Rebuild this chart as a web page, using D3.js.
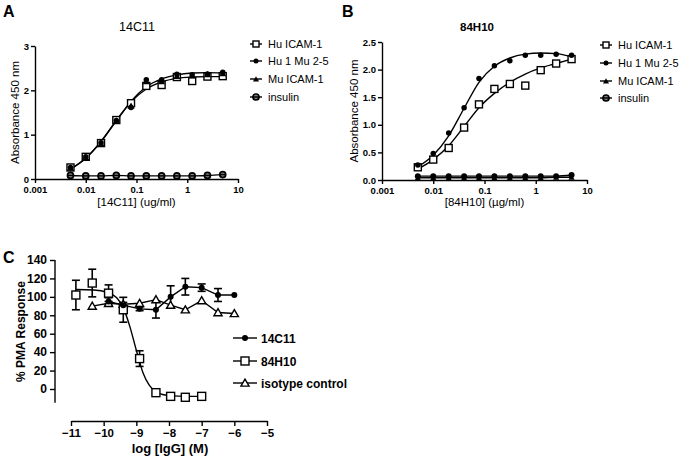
<!DOCTYPE html>
<html>
<head>
<meta charset="utf-8">
<script src="https://cdn.jsdelivr.net/npm/d3@7"></script>
<style>
  body { margin: 0; background: #fff; }
  svg { display: block; }
</style>
</head>
<body>
<svg id="chart" width="689" height="459"></svg>
<script>
// ---- data ----
const conc = [0.005, 0.01, 0.02, 0.04, 0.078, 0.156, 0.3125, 0.625, 1.25, 2.5, 5];

// panel A (14C11)
const aHuICAM = [0.26, 0.50, 0.81, 1.33, 1.71, 2.10, 2.12, 2.30, 2.21, 2.31, 2.32];
const aHu1Mu = [0.26, 0.50, 0.82, 1.32, 1.61, 2.24, 2.24, 2.36, 2.35, 2.37, 2.41];
const aMuICAM = [0.25, 0.49, 0.80, 1.31, 1.65, 2.20, 2.20, 2.32, 2.33, 2.36, 2.38];
const aInsulin = [0.08, 0.07, 0.07, 0.08, 0.07, 0.07, 0.07, 0.07, 0.07, 0.08, 0.10];
const aFitHuICAM = [0.22, 0.47, 0.85, 1.32, 1.74, 2.03, 2.19, 2.27, 2.30, 2.31, 2.31];
const aFitHu1Mu = [0.23, 0.47, 0.84, 1.31, 1.75, 2.08, 2.26, 2.35, 2.39, 2.40, 2.39];

// panel B (84H10)
const bHuICAM = [0.23, 0.37, 0.58, 0.95, 1.37, 1.65, 1.74, 1.71, 1.99, 2.11, 2.19];
const bHu1Mu = [0.27, 0.48, 0.85, 1.31, 1.84, 2.07, 2.16, 2.26, 2.26, 2.28, 2.26];
const bMuICAM = [0.04, 0.04, 0.04, 0.04, 0.04, 0.04, 0.04, 0.04, 0.04, 0.05, 0.05];
const bInsulin = [0.07, 0.07, 0.07, 0.07, 0.07, 0.07, 0.07, 0.07, 0.07, 0.07, 0.09];
const bFitHuICAM = [0.20, 0.37, 0.62, 0.97, 1.31, 1.57, 1.77, 1.92, 2.03, 2.11, 2.19];
const bFitHu1Mu = [0.24, 0.45, 0.80, 1.30, 1.77, 2.06, 2.21, 2.28, 2.30, 2.29, 2.23];

const seriesNames = ["Hu ICAM-1", "Hu 1 Mu 2-5", "Mu ICAM-1", "insulin"];

// panel C (PMA response)
const logIgG = [-10.85, -10.35, -9.85, -9.4, -8.9, -8.4, -7.95, -7.5, -7.0, -6.5, -6.0];
const c14C11 = [null, null, 95, 91, 87, 86, 100, 111, 110, 102, 102];
const c14C11Err = [0, 0, 4, 3, 2, 9, 12, 9, 4, 7, 0];
const c84H10 = [102, 115, 104, 86, 33, -4, -8, -9, -8, null, null];
const c84H10Err = [16, 15, 9, 13.5, 8.5, 0, 0, 0, 0, 0, 0];
const cIsotype = [null, 90, 93, 92, 93, 97, 91, 86, 96, 83, 82];
const c84H10FitX = [-10.85, -10.3, -9.9, -9.6, -9.4, -9.2, -9.0, -8.8, -8.6, -8.4, -8.2, -7.9, -7.5, -7.0];
const c84H10FitY = [108, 107.5, 105, 99, 88, 68, 42, 18, 4, -3, -6, -7.5, -8, -8];
const cNames = ["14C11", "84H10", "isotype control"];

const yTicksA = [0, 1, 2, 3];
const yTicksB = [0, 0.5, 1.0, 1.5, 2.0, 2.5];
const xTicksAB = [0.001, 0.01, 0.1, 1, 10];
const yTicksC = [0, 20, 40, 60, 80, 100, 120, 140];
const xTicksC = [-11, -10, -9, -8, -7, -6, -5];

// ---- drawing ----
const font = "'Liberation Sans', Arial, sans-serif";
const svg = d3.select("#chart").attr("font-family", font);

function styleAxis(g, size, weight) {
  g.selectAll("path, line").attr("stroke", "#000").attr("stroke-width", 1.4);
  g.selectAll("text").attr("font-size", size).attr("font-weight", weight).attr("fill", "#000").attr("font-family", font);
}

function marker(g, type, x, y, s) {
  if (type === "square") {
    g.append("rect").attr("x", x - s / 2).attr("y", y - s / 2).attr("width", s).attr("height", s)
      .attr("fill", "#fff").attr("stroke", "#000").attr("stroke-width", 1.4);
  } else if (type === "dot") {
    g.append("circle").attr("cx", x).attr("cy", y).attr("r", s / 2).attr("fill", "#000");
  } else if (type === "tri") {
    g.append("path").attr("d", d3.symbol(d3.symbolTriangle, s * s * 0.45)())
      .attr("transform", `translate(${x},${y + 0.8})`).attr("fill", "#000");
  } else if (type === "opentri") {
    g.append("path").attr("d", d3.symbol(d3.symbolTriangle, s * s * 0.45)())
      .attr("transform", `translate(${x},${y + 0.8})`).attr("fill", "#fff").attr("stroke", "#000").attr("stroke-width", 1.4);
  } else if (type === "ring") {
    g.append("circle").attr("cx", x).attr("cy", y).attr("r", s / 2).attr("fill", "#888")
      .attr("stroke", "#000").attr("stroke-width", 1.7);
    g.append("line").attr("x1", x - s / 2).attr("x2", x + s / 2).attr("y1", y).attr("y2", y)
      .attr("stroke", "#000").attr("stroke-width", 1.5);
  }
}

function doseCurve(g, x, y, ys) {
  const line = d3.line().x((d, i) => x(conc[i])).y(d => y(d)).curve(d3.curveMonotoneX);
  g.append("path").attr("d", line(ys)).attr("fill", "none").attr("stroke", "#000").attr("stroke-width", 1.4);
}

function drawDosePanel(opt) {
  const g = svg.append("g");
  const x = d3.scaleLog().domain([0.001, 10]).range(opt.xr);
  const y = d3.scaleLinear().domain([0, opt.ymax]).range(opt.yr);

  g.append("g").attr("transform", `translate(0,${opt.yr[0]})`)
    .call(d3.axisBottom(x).tickValues(xTicksAB).tickFormat(d => String(d)).tickSize(4).tickSizeOuter(0).tickPadding(3))
    .call(a => styleAxis(a, 9.5, "bold"));
  g.append("g").attr("transform", `translate(${opt.xr[0]},0)`)
    .call(d3.axisLeft(y).tickValues(opt.yTicks).tickFormat(opt.yFmt).tickSize(4).tickSizeOuter(0).tickPadding(2))
    .call(a => styleAxis(a, 9.5, "bold"));

  // flat lines and fitted curves
  opt.flat.forEach(ys => doseCurve(g, x, y, ys));
  opt.fits.forEach(ys => doseCurve(g, x, y, ys));

  // points
  opt.points.forEach(p => {
    conc.forEach((c, i) => marker(g, p.type, x(c), y(p.values[i]), p.size));
  });

  // labels
  g.append("text").attr("x", opt.panelX).attr("y", 17).attr("font-size", 16).attr("font-weight", "bold").text(opt.letter);
  g.append("text").attr("x", opt.titleX).attr("y", 31).attr("text-anchor", "middle")
    .attr("font-size", opt.titleSize).attr("font-weight", opt.titleWeight).text(opt.title);
  g.append("text").attr("transform", `translate(${opt.ylabX},${(opt.yr[0] + opt.yr[1]) / 2}) rotate(-90)`)
    .attr("text-anchor", "middle").attr("font-size", 11.5).text("Absorbance 450 nm");
  g.append("text").attr("x", (opt.xr[0] + opt.xr[1]) / 2).attr("y", 206).attr("text-anchor", "middle")
    .attr("font-size", 11.5).text(opt.xlab);

  // legend
  const legTypes = ["square", "dot", "tri", "ring"];
  seriesNames.forEach((n, i) => {
    const ly = opt.legY[i];
    g.append("line").attr("x1", opt.legX - 6).attr("x2", opt.legX + 6).attr("y1", ly).attr("y2", ly)
      .attr("stroke", "#000").attr("stroke-width", 1.4);
    marker(g, legTypes[i], opt.legX, ly, legTypes[i] === "dot" ? 5 : 6);
    g.append("text").attr("x", opt.legX + 12).attr("y", ly + 4).attr("font-size", 11).text(n);
  });
}

drawDosePanel({
  letter: "A", panelX: 3, title: "14C11", titleX: 137, titleSize: 12.5, titleWeight: "normal",
  xr: [35, 238], yr: [179, 46], ymax: 3, yTicks: yTicksA, yFmt: d3.format("d"),
  ylabX: 19, xlab: "[14C11] (ug/ml)",
  flat: [aInsulin], fits: [aFitHuICAM, aFitHu1Mu],
  points: [
    { type: "ring", values: aInsulin, size: 6 },
    { type: "square", values: aHuICAM, size: 7 },
    { type: "tri", values: aMuICAM, size: 7 },
    { type: "dot", values: aHu1Mu, size: 5.5 }
  ],
  legX: 256, legY: [44, 61, 79, 97]
});

drawDosePanel({
  letter: "B", panelX: 342, title: "84H10", titleX: 477, titleSize: 11.5, titleWeight: "bold",
  xr: [382, 587], yr: [180, 42], ymax: 2.5, yTicks: yTicksB, yFmt: d3.format(".1f"),
  ylabX: 358, xlab: "[84H10] (\u00b5g/ml)",
  flat: [bMuICAM, bInsulin], fits: [bFitHuICAM, bFitHu1Mu],
  points: [
    { type: "tri", values: bMuICAM, size: 6 },
    { type: "dot", values: bInsulin, size: 6 },
    { type: "square", values: bHuICAM, size: 7 },
    { type: "dot", values: bHu1Mu, size: 5.5 }
  ],
  legX: 606, legY: [45, 63, 81, 98]
});

// ---- panel C ----
(function () {
  const g = svg.append("g");
  const x = d3.scaleLinear().domain([-11, -5]).range([71, 267]);
  const y = d3.scaleLinear().domain([0, 140]).range([389, 260]);

  g.append("g").attr("transform", "translate(0,421)")
    .call(d3.axisBottom(x).tickValues(xTicksC).tickFormat(d3.format("d")).tickSize(5).tickSizeOuter(0).tickPadding(3))
    .call(a => styleAxis(a, 11.5, "bold"));
  const yAxis = g.append("g").attr("transform", "translate(55,0)")
    .call(d3.axisLeft(y).tickValues(yTicksC).tickFormat(d3.format("d")).tickSize(5).tickSizeOuter(0).tickPadding(3))
    .call(a => styleAxis(a, 12, "bold"));
  yAxis.select(".domain").attr("d", `M0,${y(140)}V${y(-15)}`);

  const plain = d3.line().defined(d => d[1] !== null).x(d => x(d[0])).y(d => y(d[1]));
  const lineStyle = p => p.attr("fill", "none").attr("stroke", "#000").attr("stroke-width", 1.4);

  // fitted curve for 84H10
  const fit = d3.line().x((d, i) => x(c84H10FitX[i])).y(d => y(d)).curve(d3.curveMonotoneX);
  g.append("path").attr("d", fit(c84H10FitY)).call(lineStyle);
  g.append("path").attr("d", plain(logIgG.map((v, i) => [v, c14C11[i]]))).call(lineStyle);
  g.append("path").attr("d", plain(logIgG.map((v, i) => [v, cIsotype[i]]))).call(lineStyle);

  function errBars(vals, errs) {
    logIgG.forEach((v, i) => {
      if (vals[i] === null || !errs[i]) return;
      const x0 = x(v), y1 = y(vals[i] + errs[i]), y2 = y(vals[i] - errs[i]);
      g.append("line").attr("x1", x0).attr("x2", x0).attr("y1", y1).attr("y2", y2).attr("stroke", "#000").attr("stroke-width", 1.6);
      [y1, y2].forEach(yy => g.append("line").attr("x1", x0 - 4).attr("x2", x0 + 4).attr("y1", yy).attr("y2", yy)
        .attr("stroke", "#000").attr("stroke-width", 1.6));
    });
  }
  errBars(c84H10, c84H10Err);
  errBars(c14C11, c14C11Err);

  logIgG.forEach((v, i) => { if (cIsotype[i] !== null) marker(g, "opentri", x(v), y(cIsotype[i]), 8); });
  logIgG.forEach((v, i) => { if (c84H10[i] !== null) marker(g, "square", x(v), y(c84H10[i]), 8); });
  logIgG.forEach((v, i) => { if (c14C11[i] !== null) marker(g, "dot", x(v), y(c14C11[i]), 6); });

  g.append("text").attr("x", 3).attr("y", 263).attr("font-size", 16).attr("font-weight", "bold").text("C");
  g.append("text").attr("transform", `translate(25,${(260 + 403) / 2}) rotate(-90)`)
    .attr("text-anchor", "middle").attr("font-size", 12).attr("font-weight", "bold").text("% PMA Response");
  g.append("text").attr("x", 170).attr("y", 453).attr("text-anchor", "middle")
    .attr("font-size", 13).attr("font-weight", "bold").text("log [IgG] (M)");

  const legTypes = ["dot", "square", "opentri"];
  const legY = [338, 361, 383];
  cNames.forEach((n, i) => {
    const lx = 245;
    g.append("line").attr("x1", lx - 12).attr("x2", lx + 12).attr("y1", legY[i]).attr("y2", legY[i])
      .attr("stroke", "#000").attr("stroke-width", 1.4);
    marker(g, legTypes[i], lx, legY[i], legTypes[i] === "dot" ? 6 : 8);
    g.append("text").attr("x", lx + 16).attr("y", legY[i] + 4.5).attr("font-size", 12).attr("font-weight", "bold").text(n);
  });
})();
</script>
</body>
</html>
